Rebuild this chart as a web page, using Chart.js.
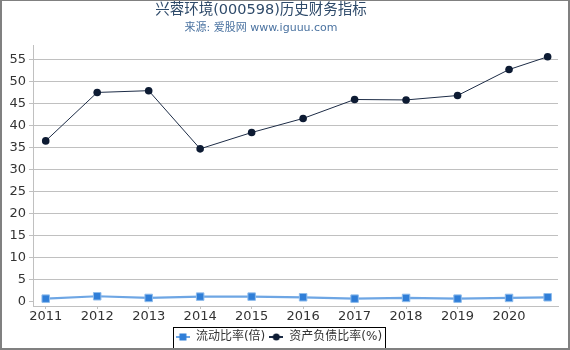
<!DOCTYPE html>
<html>
<head>
<meta charset="utf-8">
<script src="https://cdn.jsdelivr.net/npm/chart.js@4/dist/chart.umd.min.js"></script>
<style>
  html, body { margin: 0; padding: 0; background: #fff; }
</style>
</head>
<body>
<canvas id="chart" width="570" height="350"></canvas>
<script>
// x positions of the reports (last one is a partial year)
const xValues = [2011, 2012, 2013, 2014, 2015, 2016, 2017, 2018, 2019, 2020, 2020.75];
const yearLabels = ["2011", "2012", "2013", "2014", "2015", "2016", "2017", "2018", "2019", "2020"];
const currentRatio = [0.69, 1.23, 0.85, 1.15, 1.15, 1.0, 0.69, 0.85, 0.69, 0.85, 1.0];
const debtRatio = [36.5, 47.5, 47.9, 34.7, 38.4, 41.6, 45.9, 45.8, 46.8, 52.7, 55.6];
const yTicks = [0, 5, 10, 15, 20, 25, 30, 35, 40, 45, 50, 55];

const FONT = "'DejaVu Sans', 'Noto Sans CJK SC', sans-serif";
const GRID = "#c0c0c0";

function legendIcon(lineColor, fill, shape) {
    const c = document.createElement("canvas");
    c.width = 14;
    c.height = 10;
    const g = c.getContext("2d");
    g.strokeStyle = lineColor;
    g.lineWidth = 2;
    g.beginPath();
    g.moveTo(0, 5);
    g.lineTo(14, 5);
    g.stroke();
    g.fillStyle = fill;
    if (shape === "rect") {
        g.fillRect(3.5, 1.5, 7, 7);
    } else {
        g.beginPath();
        g.arc(7, 5, 3.5, 0, Math.PI * 2);
        g.fill();
    }
    return c;
}

const pairs = (ys) => ys.map((y, i) => ({ x: xValues[i], y: y }));

const framePlugin = {
    id: "frame",
    afterLayout(chart) {
        // the heading is centred a bit left of the canvas middle
        chart.boxes.forEach(b => {
            if (b.options && typeof b.options.text === "string") {
                b.left = 0;
                b.right = 522;
            }
        });
    },
    afterDraw(chart) {
        const ctx = chart.ctx;
        const hb = chart.legend.legendHitBoxes;
        if (hb && hb.length) {
            const left = Math.min(...hb.map(b => b.left)) - 3;
            const right = Math.max(...hb.map(b => b.left + b.width)) + 3;
            const top = Math.min(...hb.map(b => b.top)) - 4;
            ctx.save();
            ctx.strokeStyle = "#000";
            ctx.lineWidth = 1;
            ctx.strokeRect(Math.round(left) + 0.5, Math.round(top) + 0.5, Math.round(right - left), 30);
            ctx.restore();
        }
        ctx.save();
        ctx.fillStyle = "#808080";
        ctx.fillRect(0, 0, 570, 1);
        ctx.fillRect(0, 0, 2, 350);
        ctx.fillRect(568, 0, 2, 350);
        ctx.fillRect(0, 348, 570, 2);
        ctx.restore();
    }
};

new Chart(document.getElementById("chart"), {
    type: "line",
    data: {
        datasets: [
            {
                label: "流动比率(倍)",
                data: pairs(currentRatio),
                borderColor: "#6ea6e4",
                borderWidth: 2.2,
                pointStyle: "rect",
                pointRadius: 5.3,
                pointBackgroundColor: "#2f7ed8",
                pointBorderColor: "#8fbcec",
                pointBorderWidth: 1,
                icon: legendIcon("#6ea6e4", "#2f7ed8", "rect"),
            },
            {
                label: "资产负债比率(%)",
                data: pairs(debtRatio),
                borderColor: "#1d2c46",
                borderWidth: 1,
                pointStyle: "circle",
                pointRadius: 3.8,
                pointBackgroundColor: "#0d1b33",
                pointBorderColor: "#0d1b33",
                pointBorderWidth: 0,
                icon: legendIcon("#1d2c46", "#0d1b33", "circle"),
            },
        ],
    },
    options: {
        responsive: false,
        animation: false,
        devicePixelRatio: 1,
        layout: { padding: { left: 0, right: 12, top: 0, bottom: -3 } },
        plugins: {
            title: {
                display: true,
                text: "兴蓉环境(000598)历史财务指标",
                color: "#2e4a6a",
                font: { family: FONT, size: 14.5, weight: "normal" },
                padding: { top: 2, bottom: 0 },
            },
            subtitle: {
                display: true,
                text: "来源: 爱股网 www.iguuu.com",
                color: "#4a72a0",
                font: { family: FONT, size: 11, weight: "normal" },
                padding: { top: 2, bottom: 10.4 },
            },
            legend: {
                position: "bottom",
                labels: {
                    usePointStyle: true,
                    pointStyleWidth: 14,
                    color: "#333",
                    padding: 4,
                    font: { family: FONT, size: 12 },
                    generateLabels(chart) {
                        return chart.data.datasets.map((ds, i) => ({
                            text: ds.label,
                            pointStyle: ds.icon,
                            fillStyle: ds.pointBackgroundColor,
                            strokeStyle: ds.borderColor,
                            lineWidth: 0,
                            fontColor: "#333",
                            hidden: !chart.isDatasetVisible(i),
                            datasetIndex: i,
                        }));
                    },
                },
            },
            tooltip: { enabled: false },
        },
        scales: {
            x: {
                type: "linear",
                min: 2010.753,
                max: 2020.951,
                afterBuildTicks(axis) {
                    axis.ticks = yearLabels.map(v => ({ value: Number(v) }));
                },
                afterFit(axis) { axis.height = 21; },
                ticks: {
                    color: "#333",
                    padding: 0,
                    maxRotation: 0,
                    autoSkip: false,
                    font: { family: FONT, size: 13 },
                    callback: (v) => String(v),
                },
                grid: { drawOnChartArea: false, drawTicks: true, tickLength: 3, color: GRID },
                border: { display: true, color: GRID },
            },
            y: {
                min: -0.98,
                max: 58.27,
                afterBuildTicks(axis) {
                    axis.ticks = yTicks.map(v => ({ value: v }));
                },
                afterFit(axis) { axis.width = 33; },
                ticks: {
                    color: "#333",
                    padding: 3,
                    font: { family: FONT, size: 13 },
                },
                grid: {
                    color: (c) => (c.tick && c.tick.value === 0 ? "rgba(0,0,0,0)" : GRID),
                    tickColor: GRID,
                    tickLength: 4,
                },
                border: { display: true, color: GRID },
            },
        },
    },
    plugins: [framePlugin],
});
</script>
</body>
</html>
